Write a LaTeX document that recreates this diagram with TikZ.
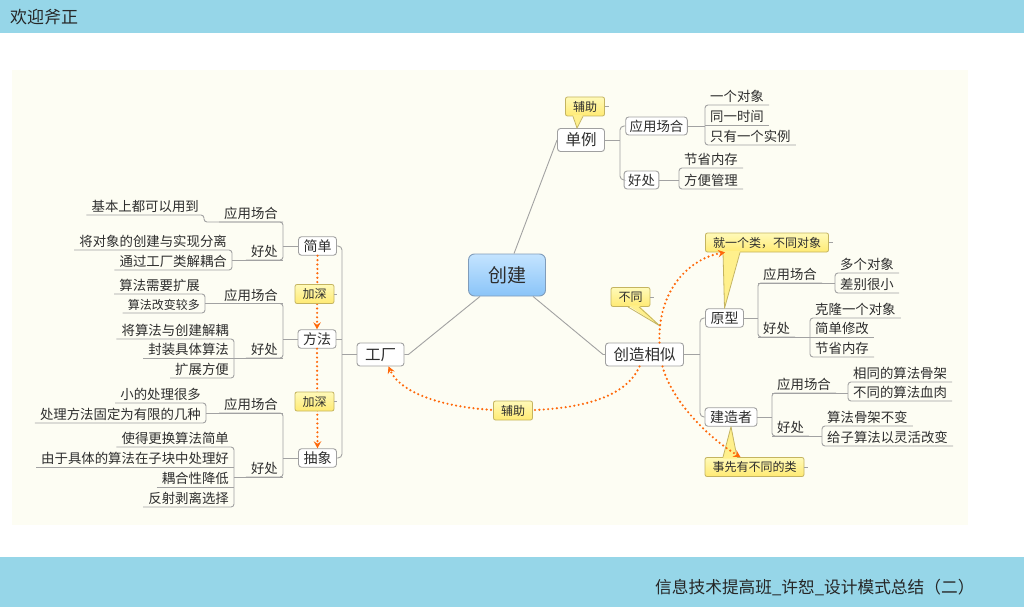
\documentclass[tikz,border=0pt]{standalone}
\usepackage{fontspec}
\setmainfont{Noto Sans CJK SC}
\usetikzlibrary{arrows.meta,calc}
\definecolor{topblue}{RGB}{150,214,232}
\definecolor{cream}{RGB}{253,253,243}
\definecolor{linegray}{RGB}{162,162,162}
\definecolor{boxborder}{RGB}{160,160,160}
\definecolor{textc}{RGB}{45,45,45}
\definecolor{dotorange}{RGB}{255,104,10}
\definecolor{caltop}{RGB}{255,250,185}
\definecolor{calbot}{RGB}{255,234,115}
\definecolor{calborder}{RGB}{196,180,96}
\definecolor{ptfill}{RGB}{255,240,140}
\definecolor{roottop}{RGB}{196,228,255}
\definecolor{rootbot}{RGB}{138,196,248}
\definecolor{rootborder}{RGB}{128,156,186}
\newcommand\fsRoot{\fontsize{19}{22}\selectfont}
\newcommand\fsBig{\fontsize{15.5}{18}\selectfont}
\newcommand\fsMid{\fontsize{14}{16}\selectfont}
\newcommand\fsLeaf{\fontsize{13.4}{16}\selectfont}
\newcommand\fsSmall{\fontsize{12}{14}\selectfont}
\newcommand\fsCall{\fontsize{12}{14}\selectfont}
\newcommand\fsTitle{\fontsize{17}{20}\selectfont}
\newcommand\fsFoot{\fontsize{16.7}{20}\selectfont}
\newcommand\myul[1]{\draw[conn] (#1.south west) -- (#1.south east);}
\newcommand\brR[2]{\draw[conn, rounded corners=3pt] (#1.south east) -- (#1.south west) -- (#2.south west) -- (#2.south east);}
\newcommand\brL[2]{\draw[conn, rounded corners=3pt] (#1.south west) -- (#1.south east) -- (#2.south east) -- (#2.south west);}
\begin{document}
\begin{tikzpicture}[x=1pt,y=-1pt,
  conn/.style={draw=linegray, line width=0.9pt},
  rootbox/.style={draw=rootborder, line width=0.9pt, top color=roottop, bottom color=rootbot, rounded corners=6pt, minimum width=77pt, minimum height=42pt, font=\fsRoot, text=textc, text height=16.2pt, text depth=1.7pt},
  bigbox/.style={draw=boxborder, line width=0.9pt, fill=white, rounded corners=3pt, font=\fsBig, text=textc, inner xsep=8pt, inner ysep=0pt, minimum height=23pt, text height=13.2pt, text depth=1.4pt},
  midbox/.style={draw=boxborder, line width=0.9pt, fill=white, rounded corners=3pt, font=\fsMid, text=textc, inner xsep=5pt, inner ysep=0pt, minimum height=18.5pt, text height=11.9pt, text depth=1.3pt},
  smbox/.style={draw=boxborder, line width=0.9pt, fill=white, rounded corners=3pt, font=\fsLeaf, text=textc, inner xsep=4pt, inner ysep=0pt, minimum height=18pt, text height=11.4pt, text depth=1.2pt},
  leaf/.style={font=\fsLeaf, text=textc, inner xsep=5pt, inner ysep=1.7pt, text height=11.4pt, text depth=1.2pt},
  leafR/.style={leaf, anchor=south west},
  leafL/.style={leaf, anchor=south east},
  callout/.style={draw=calborder, line width=0.8pt, top color=caltop, bottom color=calbot, rounded corners=2pt, font=\fsCall, text=textc, inner xsep=7.5pt, inner ysep=0pt, minimum height=19pt, text height=10.2pt, text depth=1.1pt},
  ptfillst/.style={fill=ptfill},
  ptline/.style={draw=calborder, line width=0.8pt, line join=round},
  dotarrow/.style={draw=dotorange, line width=2.4pt, line cap=round, dash pattern=on 0pt off 4.4pt, -{Stealth[length=7pt,width=7.5pt,inset=2.5pt]}}
]
\useasboundingbox (0,0) rectangle (1024,607);
\fill[white] (0,0) rectangle (1024,607);
\fill[topblue] (0,0) rectangle (1024,33);
\fill[topblue] (0,557) rectangle (1024,607);
\fill[cream] (12,70) rectangle (968,525);
\node[anchor=west, font=\fsTitle, text=black!85, inner sep=0pt] (title) at (10,17) {欢迎斧正};
\node[anchor=west, font=\fsFoot, text=black!85, inner sep=0pt] (foot) at (655,588) {信息技术提高班\_许恕\_设计模式总结（二）};

% ---------- boxes ----------
\node[rootbox] (cj) at (507,275) {创建};
\node[bigbox] (dl) at (581,140) {单例};
\node[smbox] (dlA) at (656.5,126) {应用场合};
\node[smbox] (dlB) at (641.5,180) {好处};
\node[bigbox] (gc) at (380.5,354.5) {工厂};
\node[midbox] (jd) at (317.5,246) {简单};
\node[midbox] (ff) at (317,339) {方法};
\node[midbox] (cx) at (317.5,458) {抽象};
\node[bigbox] (cz) at (644.5,354.5) {创造相似};
\node[midbox] (yx) at (724.5,318) {原型};
\node[midbox] (jz) at (731,417) {建造者};
\coordinate (dlbx) at (620,0);
\coordinate (gcbx) at (342,0);
\coordinate (czbx) at (700,0);

% ---------- leaves right ----------
\node[leafR] (dlA1) at (705,105) {一个对象};
\node[leafR] (dlA2) at (705,125) {同一时间};
\node[leafR] (dlA3) at (705,145) {只有一个实例};
\node[leafR] (dlB1) at (679,168) {节省内存};
\node[leafR] (dlB2) at (679,189) {方便管理};
\node[leafR] (yxA) at (758,283) {应用场合};
\node[leafR] (yxA1) at (835,273) {多个对象};
\node[leafR] (yxA2) at (835,293) {差别很小};
\node[leafR] (yxB) at (758,337) {好处};
\node[leafR] (yxB1) at (810,318) {克隆一个对象};
\node[leafR] (yxB2) at (810,337) {简单修改};
\node[leafR] (yxB3) at (810,357) {节省内存};
\node[leafR] (jzA) at (772,393) {应用场合};
\node[leafR] (jzA1) at (848,382) {相同的算法骨架};
\node[leafR] (jzA2) at (848,401) {不同的算法血肉};
\node[leafR] (jzB) at (772,436) {好处};
\node[leafR] (jzB1) at (822,426) {算法骨架不变};
\node[leafR] (jzB2) at (822,446) {给子算法以灵活改变};

% ---------- leaves left ----------
\node[leafL] (jdA) at (283,222) {应用场合};
\node[leafL] (jdA1) at (204,215) {基本上都可以用到};
\node[leafL] (jdB) at (283,260) {好处};
\node[leafL] (jdB1) at (232,250) {将对象的创建与实现分离};
\node[leafL] (jdB2) at (232,270) {通过工厂类解耦合};
\node[leafL] (ffA) at (283,303.5) {应用场合};
\node[leafL] (ffA1) at (205,294) {算法需要扩展};
\node[leafL, font=\fsSmall] (ffA2) at (205,313) {算法改变较多};
\node[leafL] (ffB) at (283,358) {好处};
\node[leafL] (ffB1) at (234,339) {将算法与创建解耦};
\node[leafL] (ffB2) at (234,358) {封装具体算法};
\node[leafL] (ffB3) at (234,378) {扩展方便};
\node[leafL] (cxA) at (283,413) {应用场合};
\node[leafL] (cxA1) at (206,403) {小的处理很多};
\node[leafL] (cxA2) at (206,423) {处理方法固定为有限的几种};
\node[leafL] (cxB) at (283,477) {好处};
\node[leafL] (cxB1) at (234,447) {使得更换算法简单};
\node[leafL] (cxB2) at (234,467) {由于具体的算法在子块中处理好};
\node[leafL] (cxB3) at (234,487) {耦合性降低};
\node[leafL] (cxB4) at (234,507) {反射剥离选择};

% ---------- connectors from root ----------
\draw[conn] ([xshift=7pt]cj.north) -- (dl.west);
\draw[conn] ([xshift=-27pt]cj.south) -- ([xshift=4pt]gc.east) -- (gc.east);
\draw[conn] ([xshift=26pt]cj.south) -- ([xshift=-2pt]cz.west) -- (cz.west);

% ---------- 单例 ----------
\draw[conn, rounded corners=4pt] (dlA.west) -- (dlA.west -| dlbx) -- (dlB.west -| dlbx) -- (dlB.west);
\draw[conn] (dl.east) -- (dl.east -| dlbx);
\draw[conn] (dlA.east) -- (dlA.east -| dlA1.south west);
\brR{dlA1}{dlA3} \myul{dlA2}
\draw[conn] (dlB.east) -- (dlB.east -| dlB1.south west);
\brR{dlB1}{dlB2}

% ---------- 创造相似 ----------
\draw[conn, rounded corners=4pt] (yx.west) -- (yx.west -| czbx) -- (jz.west -| czbx) -- (jz.west);
\draw[conn] (cz.east) -- (cz.east -| czbx);
\draw[conn] (yx.east) -- (yx.east -| yxA.south west);
\brR{yxA}{yxB}
\draw[conn] (yxA.south west) -- (yxA.south west -| yxA1.south west);
\brR{yxA1}{yxA2}
\draw[conn] (yxB.south west) -- (yxB.south west -| yxB1.south west);
\brR{yxB1}{yxB3} \myul{yxB2}
\draw[conn] (jz.east) -- (jz.east -| jzA.south west);
\brR{jzA}{jzB}
\draw[conn] (jzA.south west) -- (jzA.south west -| jzA1.south west);
\brR{jzA1}{jzA2}
\draw[conn] (jzB.south west) -- (jzB.south west -| jzB1.south west);
\brR{jzB1}{jzB2}

% ---------- 工厂 ----------
\draw[conn, rounded corners=4pt] (jd.east) -- (jd.east -| gcbx) -- (cx.east -| gcbx) -- (cx.east);
\draw[conn] (ff.east) -- (ff.east -| gcbx);
\draw[conn] (gc.west) -- (gc.west -| gcbx);
\draw[conn] (jd.west) -- (jd.west -| jdA.south east);
\brL{jdA}{jdB}
\draw[conn, rounded corners=3pt] (jdA.south east) -- (jdA.south east -| jdA1.south east) -- (jdA1.south east) -- (jdA1.south west);
\draw[conn] (jdB.south east) -- (jdB.south east -| jdB1.south east);
\brL{jdB1}{jdB2}
\draw[conn] (ff.west) -- (ff.west -| ffA.south east);
\brL{ffA}{ffB}
\draw[conn] (ffA.south east) -- (ffA.south east -| ffA1.south east);
\brL{ffA1}{ffA2}
\draw[conn] (ffB.south east) -- (ffB.south east -| ffB1.south east);
\brL{ffB1}{ffB3} \myul{ffB2}
\draw[conn] (cx.west) -- (cx.west -| cxA.south east);
\brL{cxA}{cxB}
\draw[conn] (cxA.south east) -- (cxA.south east -| cxA1.south east);
\brL{cxA1}{cxA2}
\draw[conn] (cxB.south east) -- (cxB.south east -| cxB1.south east);
\brL{cxB1}{cxB4} \myul{cxB2} \myul{cxB3}

% ---------- callouts with pointers ----------
\node[callout] (fz1) at (585,106.5) {辅助};
\fill[ptfillst] ($(fz1.south)+(-12,-1.5)$) -- ([xshift=-4pt]dl.north) -- ($(fz1.south)+(-2,-1.5)$) -- cycle;
\draw[ptline] ($(fz1.south)+(-12,0)$) -- ([xshift=-4pt]dl.north) -- ($(fz1.south)+(-2,0)$);
\draw[conn] (fz1.east) -- ++(4,0);

\node[callout] (jy) at (767,242.5) {就一个类，不同对象};
\fill[ptfillst] ($(jy.south)+(-44,-1.5)$) -- (yx.north) -- ($(jy.south)+(-27,-1.5)$) -- cycle;
\draw[ptline] ($(jy.south)+(-44,0)$) -- (yx.north) -- ($(jy.south)+(-27,0)$);
\draw[conn] (jy.east) -- ++(4,0);

\node[callout] (sx) at (754.5,467) {事先有不同的类};
\fill[ptfillst] ($(sx.north)+(-31.5,1.5)$) -- (jz.south) -- ($(sx.north)+(-17.5,1.5)$) -- cycle;
\draw[ptline] ($(sx.north)+(-31.5,0)$) -- (jz.south) -- ($(sx.north)+(-17.5,0)$);
\draw[conn] (sx.east) -- ++(4,0);

\coordinate (btTip) at (660,326);
\node[callout] (bt) at (630.5,297) {不同};
\fill[ptfillst] ($(bt.south)+(-2.5,-1.5)$) -- (btTip) -- ($(bt.south)+(8.5,-1.5)$) -- cycle;
\draw[ptline] ($(bt.south)+(-2.5,0)$) -- (btTip) -- ($(bt.south)+(8.5,0)$);
\draw[conn] (bt.east) -- ++(4,0);

% ---------- dotted relations ----------
\coordinate (fzc) at (513,410.5);
\coordinate (js1c) at (314.5,294);
\coordinate (js2c) at (314.5,401.5);
\draw[dotarrow] (jd.south) -- (ff.north);
\draw[dotarrow] (ff.south) -- (cx.north);
\draw[dotarrow] ([xshift=15pt]cz.north) .. controls +(-2,-53) and +(-35,6) .. ([xshift=-42pt]jy.south);
\draw[dotarrow] ([xshift=18pt]cz.south) .. controls +(9,34) and +(-33,-20) .. ([xshift=-14pt]sx.north);
\draw[dotarrow] ([xshift=-5pt]cz.south) .. controls +(-15,34) and +(60,0) .. (fzc) .. controls +(-63,0) and +(12,28) .. ([xshift=8pt]gc.south);

\node[callout] (fz2) at (fzc) {辅助};
\node[callout] (jsh1) at (js1c) {加深};
\draw[conn] (jsh1.east) -- ++(3,0);
\node[callout] (jsh2) at (js2c) {加深};
\draw[conn] (jsh2.east) -- ++(3,0);
\end{tikzpicture}
\end{document}
